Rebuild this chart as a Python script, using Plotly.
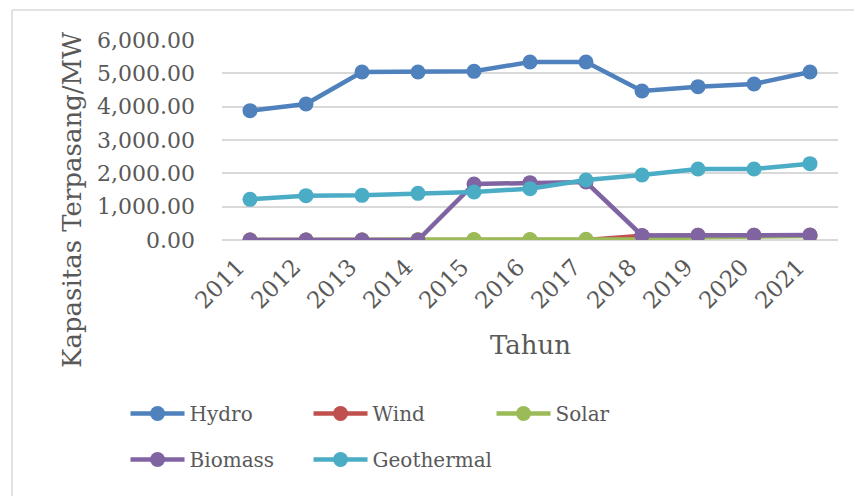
import plotly.graph_objects as go

years = ["2011", "2012", "2013", "2014", "2015", "2016", "2017", "2018", "2019", "2020", "2021"]
hydro = [3880, 4080, 5040, 5040, 5060, 5340, 5340, 4470, 4600, 4680, 5040]
wind = [0, 0, 0, 0, 1, 1, 1, 130, 140, 140, 145]
solar = [0, 0, 0, 10, 12, 15, 20, 20, 80, 90, 120]
biomass = [0, 0, 0, 0, 1680, 1720, 1740, 135, 140, 142, 148]
geothermal = [1220, 1330, 1340, 1400, 1440, 1540, 1800, 1950, 2130, 2130, 2290]

series = [
    ("Hydro", hydro, "#4F81BD", "legend"),
    ("Wind", wind, "#C0504D", "legend"),
    ("Solar", solar, "#9BBB59", "legend"),
    ("Biomass", biomass, "#8064A2", "legend2"),
    ("Geothermal", geothermal, "#4BACC6", "legend2"),
]

FONT = "DejaVu Serif"
TXT = "#595959"

fig = go.Figure()
for name, vals, col, lg in series:
    fig.add_trace(go.Scatter(
        x=years, y=vals, name=name, mode="lines+markers",
        line=dict(color=col, width=4.5),
        marker=dict(color=col, size=15),
        legend=lg,
    ))

leg_common = dict(
    orientation="h", xanchor="left", yanchor="top",
    entrywidth=114, entrywidthmode="pixels",
    font=dict(family=FONT, size=20, color=TXT),
    itemwidth=54, bgcolor="rgba(0,0,0,0)",
)

fig.update_layout(
    width=862, height=496, autosize=False,
    margin=dict(l=214, r=32, t=32, b=264),
    paper_bgcolor="white", plot_bgcolor="white",
    font=dict(family=FONT, color=TXT, size=21),
    showlegend=True,
    legend=dict(x=-0.1566, y=-0.77, **leg_common),
    legend2=dict(x=-0.1566, y=-1.0, **leg_common),
    xaxis=dict(
        type="category", range=[-0.5, 10.5], tickangle=-45,
        showgrid=False, showline=False, zeroline=False,
        tickfont=dict(family=FONT, size=23, color=TXT),
        ticklabelstandoff=8, ticklabelshift=-12,
    ),
    yaxis=dict(
        range=[0, 6000], dtick=1000, tickformat=",.2f",
        showgrid=True, gridcolor="#d9d9d9", gridwidth=1.5,
        zeroline=True, zerolinecolor="#d9d9d9", zerolinewidth=1.5,
        showline=False,
        tickfont=dict(family=FONT, size=22, color=TXT),
        ticklabelstandoff=26,
    ),
    annotations=[
        dict(text="Kapasitas Terpasang/MW", xref="paper", yref="paper",
             x=-0.2435, y=0.2, xanchor="center", yanchor="middle",
             textangle=-90, showarrow=False,
             font=dict(family=FONT, size=26, color=TXT)),
        dict(text="Tahun", xref="paper", yref="paper",
             x=0.5, y=-0.525, xanchor="center", yanchor="middle",
             showarrow=False, font=dict(family=FONT, size=26, color=TXT)),
    ],
    shapes=[
        dict(type="line", xref="paper", yref="paper",
             x0=-0.3409, x1=1.1, y0=1.15, y1=1.15,
             line=dict(color="#d9d9d9", width=1.5)),
        dict(type="line", xref="paper", yref="paper",
             x0=-0.3409, x1=-0.3409, y0=1.15, y1=-1.4,
             line=dict(color="#d9d9d9", width=1.5)),
    ],
)

fig.write_html("out.html")
